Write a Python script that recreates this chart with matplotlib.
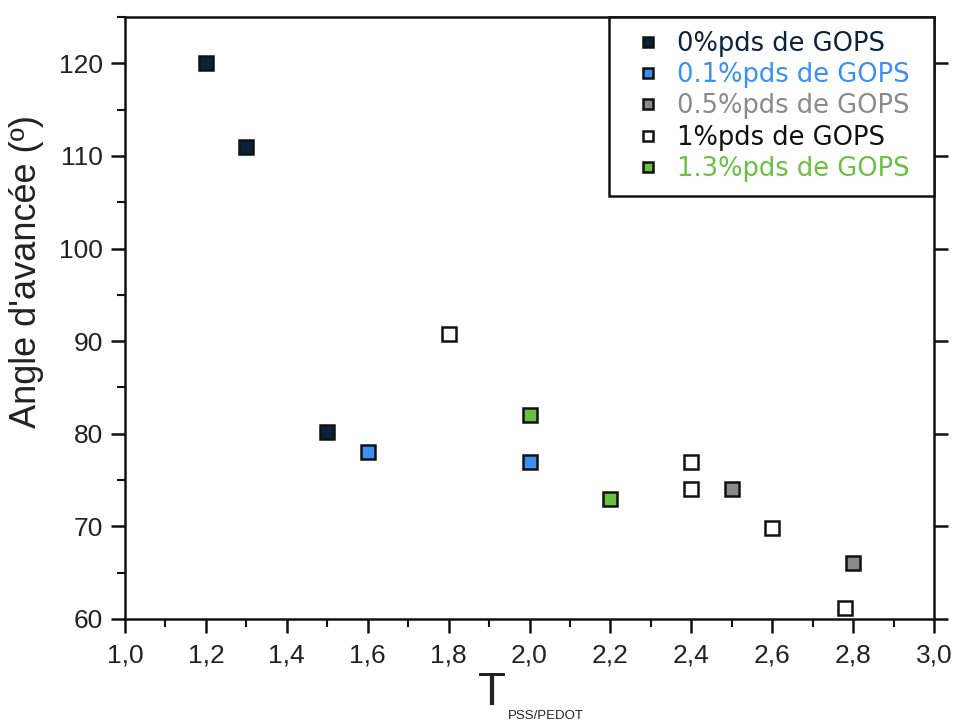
import matplotlib
matplotlib.use("Agg")
import matplotlib.pyplot as plt
from matplotlib.ticker import MultipleLocator, FuncFormatter

# Data
labels = ["0%pds de GOPS", "0.1%pds de GOPS", "0.5%pds de GOPS",
          "1%pds de GOPS", "1.3%pds de GOPS"]
x0 = [1.2, 1.3, 1.5]
y0 = [120, 111, 80.2]
x01 = [1.6, 2.0]
y01 = [78, 77]
x05 = [2.5, 2.8]
y05 = [74, 66]
x1 = [1.8, 2.4, 2.4, 2.6, 2.78]
y1 = [90.8, 77, 74, 69.8, 61.2]
x13 = [2.0, 2.2]
y13 = [82, 73]

colors = ["#0c2238", "#3d8ff2", "#8a8a8a", "#ffffff", "#6cc040"]
text_colors = ["#0c2238", "#3d8ff2", "#8a8a8a", "#111111", "#6cc040"]
series = [(x0, y0), (x01, y01), (x05, y05), (x1, y1), (x13, y13)]

plt.rcParams["font.family"] = ["Liberation Sans", "DejaVu Sans"]

fig = plt.figure(figsize=(9.56, 7.25), dpi=100)
ax = fig.add_axes([125/956, 1-619/725, (934-125)/956, (619-17)/725])

handles = []
for (xs, ys), c, lab in zip(series, colors, labels):
    h, = ax.plot(xs, ys, linestyle="none", marker="s", markersize=9.5,
                 markerfacecolor=c, markeredgecolor="#111111",
                 markeredgewidth=1.8, label=lab)
    handles.append(h)

ax.set_xlim(1.0, 3.0)
ax.set_ylim(60, 125)

ax.xaxis.set_major_locator(MultipleLocator(0.2))
ax.xaxis.set_minor_locator(MultipleLocator(0.1))
ax.yaxis.set_major_locator(MultipleLocator(10))
ax.yaxis.set_minor_locator(MultipleLocator(5))
ax.xaxis.set_major_formatter(FuncFormatter(lambda v, p: f"{v:.1f}".replace(".", ",")))
ax.yaxis.set_major_formatter(FuncFormatter(lambda v, p: f"{v:.0f}" if v <= 120 else ""))

for sp in ax.spines.values():
    sp.set_linewidth(1.8)
    sp.set_color("#111111")

ax.tick_params(axis="both", which="major", direction="out", length=10, width=1.8,
               color="#111111", labelsize=19, labelcolor="#222222")
ax.tick_params(axis="both", which="minor", direction="out", length=6, width=1.5,
               color="#111111")
ax.tick_params(axis="y", which="major", right=True, labelright=False, pad=6)
ax.tick_params(axis="y", which="minor", right=False)
ax.tick_params(axis="x", which="major", pad=8)

fig.text(27/956, 1-272/725, "Angle d'avancée (º)", rotation=90, ha="center",
         va="center", fontsize=26, color="#222222")
fig.text(506/956, 1-705/725, "T", ha="right", va="baseline", fontsize=33,
         color="#222222")
fig.text(508/956, 1-719/725, "PSS/PEDOT", ha="left", va="baseline", fontsize=9.5,
         color="#222222")

leg = ax.legend(handles=handles, loc="upper right",
                bbox_to_anchor=(0.598, 0.0, 0.402, 1.0), mode="expand",
                borderaxespad=0, frameon=True, fancybox=False, framealpha=1,
                prop={"family": ["DejaVu Sans"], "size": 18.5},
                labelcolor=text_colors, markerscale=0.8, handlelength=1.95,
                handletextpad=0.15, labelspacing=0.2, borderpad=0.55)
leg.get_frame().set_edgecolor("#111111")
leg.get_frame().set_linewidth(1.8)

fig.savefig("out.png", dpi=100)
